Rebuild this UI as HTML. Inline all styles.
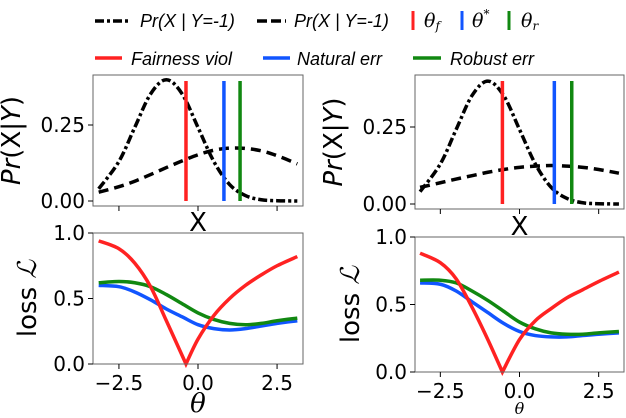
<!DOCTYPE html>
<html><head><meta charset="utf-8">
<style>
body{margin:0;background:#fff;}
svg{display:block;font-family:"DejaVu Sans","Liberation Sans",sans-serif;}
.tick{font-size:20px;fill:#000;}
.leg{font-family:"Liberation Sans",sans-serif;font-style:italic;font-size:18px;}
</style></head>
<body>
<svg id="chart" width="626" height="418" viewBox="0 0 626 418" xmlns="http://www.w3.org/2000/svg">
<g>
  <line x1="95" y1="21" x2="131" y2="21" stroke="#000" stroke-width="3.5" stroke-dasharray="9,3,3,3"/>
  <text class="leg" x="140" y="27">Pr(X | Y=-1)</text>
  <line x1="257" y1="21" x2="286" y2="21" stroke="#000" stroke-width="3.5" stroke-dasharray="10,4"/>
  <text class="leg" x="294" y="27">Pr(X | Y=-1)</text>
  <line x1="413" y1="11" x2="413" y2="30" stroke="#f22" stroke-width="3"/>
  <text x="424" y="27" font-family="DejaVu Serif,serif" font-style="italic" font-size="19">θ<tspan font-size="12" dy="3">f</tspan></text>
  <line x1="462" y1="11" x2="462" y2="30" stroke="#15f" stroke-width="3"/>
  <text x="472" y="27" font-family="DejaVu Serif,serif" font-style="italic" font-size="19">θ<tspan font-size="12" dy="-9">*</tspan></text>
  <line x1="509" y1="11" x2="509" y2="30" stroke="#181" stroke-width="3"/>
  <text x="521" y="27" font-family="DejaVu Serif,serif" font-style="italic" font-size="19">θ<tspan font-size="12" dy="3">r</tspan></text>
  <line x1="95" y1="58" x2="122" y2="58" stroke="#f22" stroke-width="3.5"/>
  <text class="leg" x="131" y="65">Fairness viol</text>
  <line x1="263" y1="58" x2="290" y2="58" stroke="#15f" stroke-width="3.5"/>
  <text class="leg" x="297" y="65">Natural err</text>
  <line x1="413" y1="58" x2="441" y2="58" stroke="#181" stroke-width="3.5"/>
  <text class="leg" x="450" y="65">Robust err</text>
</g>
</svg>
<script>
const xs = [-3.14,-2.5,-2,-1.5,-1,-0.5,0,0.5,1,1.5,2,2.5,3.14];
const pdfA_L = [0.040,0.130,0.242,0.352,0.399,0.352,0.242,0.130,0.054,0.018,0.004,0.001,0.000];
const pdfB_L = [0.029,0.047,0.065,0.087,0.110,0.132,0.152,0.167,0.174,0.173,0.165,0.149,0.122];
const pdfA_R = [0.040,0.130,0.242,0.352,0.399,0.352,0.242,0.130,0.054,0.018,0.004,0.001,0.000];
const pdfB_R = [0.054,0.069,0.081,0.092,0.103,0.112,0.119,0.123,0.125,0.123,0.119,0.112,0.100];
const thetaLines_L = [-0.38,0.82,1.33];
const thetaLines_R = [-0.54,1.10,1.65];
const thL = [-3.14,-2.5,-2,-1.5,-1,-0.38,0,0.5,1,1.5,2,2.5,3.14];
const fairL = [0.94,0.88,0.77,0.59,0.33,0.0,0.19,0.37,0.50,0.60,0.68,0.75,0.82];
const thLs = [-3.14,-2.5,-2,-1.5,-1,-0.5,0,0.5,1,1.5,2,2.5,3.14];
const natL  = [0.60,0.59,0.55,0.49,0.42,0.36,0.30,0.27,0.26,0.27,0.29,0.31,0.33];
const robL  = [0.62,0.63,0.62,0.59,0.53,0.46,0.39,0.34,0.31,0.30,0.31,0.33,0.35];
const thR = [-3.14,-2.5,-2,-1.5,-1,-0.54,0,0.5,1,1.5,2,2.5,3.14];
const fairR = [0.88,0.81,0.69,0.48,0.24,0.0,0.24,0.38,0.47,0.55,0.61,0.67,0.74];
const thRs = [-3.14,-2.5,-2,-1.5,-1,-0.5,0,0.5,1,1.5,2,2.5,3.14];
const natR  = [0.66,0.65,0.60,0.52,0.44,0.36,0.30,0.27,0.26,0.26,0.27,0.28,0.29];
const robR  = [0.68,0.68,0.66,0.60,0.53,0.45,0.37,0.32,0.29,0.28,0.28,0.29,0.30];
const xTicks = [-2.5,0,2.5];
const xTickLabels = ["\u22122.5","0.0","2.5"];
const pTicks = [0,0.25];
const pTickLabels = ["0.00","0.25"];
const lTicks = [0,0.5,1];
const lTickLabels = ["0.0","0.5","1.0"];

const NS="http://www.w3.org/2000/svg";
const svg=document.getElementById('chart');
function el(tag,attrs,parent){const e=document.createElementNS(NS,tag);for(const k in attrs)e.setAttribute(k,attrs[k]);(parent||svg).appendChild(e);return e;}
function spline(pts){let d=`M${pts[0][0]},${pts[0][1]}`;for(let i=0;i<pts.length-1;i++){const p0=pts[i-1]||pts[i],p1=pts[i],p2=pts[i+1],p3=pts[i+2]||p2;d+=` C${p1[0]+(p2[0]-p0[0])/6},${p1[1]+(p2[1]-p0[1])/6} ${p2[0]-(p3[0]-p1[0])/6},${p2[1]-(p3[1]-p1[1])/6} ${p2[0]},${p2[1]}`;}return d;}
function kinkPath(pts,k){
  return spline(pts.slice(0,k+1))+' '+spline(pts.slice(k)).replace('M','L');
}

function panel(o){
  const g=el('g',{});
  
  
  const sx=v=>o.x0+(v-o.xmin)/(o.xmax-o.xmin)*(o.x1-o.x0);
  const sy=v=>o.ybase+(o.ymin-v)*o.ypx;
  o.series.forEach(s=>{
    const pts=s.x.map((v,i)=>[sx(v),sy(s.y[i])]);
    const p=el('path',{d:s.kink!=null?kinkPath(pts,s.kink):spline(pts),fill:'none',stroke:s.color,'stroke-width':3.5,'stroke-dasharray':s.dash||'none','stroke-linejoin':'miter'},g);
    
    
  });
  (o.vlines||[]).forEach((v,i)=>{
    const l=el('line',{x1:sx(v),x2:sx(v),y1:o.y0+6,y2:o.y1-5,stroke:['#f22','#15f','#181'][i],'stroke-width':3.5},g);
    
    
  });
  const fr=el('rect',{x:o.x0,y:o.y0,width:o.x1-o.x0,height:o.y1-o.y0,fill:'none',stroke:'#666','stroke-width':1},g);
  
  
  xTicks.forEach((v,i)=>{
    const t=el('line',{x1:sx(v),x2:sx(v),y1:o.y1,y2:o.y1+5,stroke:'#000'},g);
    
    
    if(o.xlabels){const tx=el('text',{x:sx(v),y:o.y1+26,'text-anchor':'middle',class:'tick'},g);tx.textContent=xTickLabels[i];
      
      }
  });
  o.yt.forEach((v,i)=>{
    const t=el('line',{x1:o.x0-5,x2:o.x0,y1:sy(v),y2:sy(v),stroke:'#000'},g);
    
    
    const tx=el('text',{x:o.x0-8,y:sy(v)+7,'text-anchor':'end',class:'tick'},g);tx.textContent=o.ytl[i];
    
    
  });
  const yl=el('text',{x:0,y:0,'text-anchor':'middle','font-size':o.ylfs,transform:`translate(${o.ylx},${(o.y0+o.y1)/2}) rotate(-90)`},g);
  yl.innerHTML=o.ylab;
  
  
  const xl=el('text',{x:(o.x0+o.x1)/2,y:o.xly,'text-anchor':'middle','font-size':o.xlfs,'font-style':o.xlit?'italic':'normal','font-family':o.xlit?'DejaVu Serif,serif':'DejaVu Sans,sans-serif'},g);
  xl.textContent=o.xlab;
  
  
}
const PR='<tspan font-style="italic">Pr</tspan>(X|<tspan font-style="italic">Y</tspan>)';
const LOSS='loss <tspan font-family="DejaVu Serif,serif" font-style="italic">ℒ</tspan>';
panel({name:'left-density-panel',x0:93,x1:303,y0:75,y1:206,xmin:-3.32,xmax:3.32,ybase:201,ymin:0,ypx:304,
  series:[{x:xs,y:pdfA_L,color:'#000',dash:'9,3,3,3',name:'pdf-dashdot-line'},{x:xs,y:pdfB_L,color:'#000',dash:'10,6',name:'pdf-dashed-line'}],
  vlines:thetaLines_L,yt:pTicks,ytl:pTickLabels,ylx:20,ylfs:26,ylab:PR,xlab:'X',xly:231,xlfs:26,xlabels:false});
panel({name:'left-loss-panel',x0:93,x1:303,y0:233,y1:364,xmin:-3.32,xmax:3.32,ybase:364,ymin:0,ypx:131,
  series:[{x:thLs,y:natL,color:'#15f',name:'natural-err-line'},{x:thLs,y:robL,color:'#181',name:'robust-err-line'},{x:thL,y:fairL,color:'#f22',kink:5,name:'fairness-viol-line'}],
  yt:lTicks,ytl:lTickLabels,ylx:36,ylfs:26,ylab:LOSS,xlab:'θ',xly:412,xlfs:26,xlit:true,xlabels:true});
panel({name:'right-density-panel',x0:415,x1:624,y0:75,y1:209,xmin:-3.3,xmax:3.3,ybase:204,ymin:0,ypx:308,
  series:[{x:xs,y:pdfA_R,color:'#000',dash:'9,3,3,3',name:'pdf-dashdot-line'},{x:xs,y:pdfB_R,color:'#000',dash:'10,6',name:'pdf-dashed-line'}],
  vlines:thetaLines_R,yt:pTicks,ytl:pTickLabels,ylx:342,ylfs:26,ylab:PR,xlab:'X',xly:235,xlfs:26,xlabels:false});
panel({name:'right-loss-panel',x0:415,x1:624,y0:237,y1:372,xmin:-3.3,xmax:3.3,ybase:372,ymin:0,ypx:135,
  series:[{x:thRs,y:natR,color:'#15f',name:'natural-err-line'},{x:thRs,y:robR,color:'#181',name:'robust-err-line'},{x:thR,y:fairR,color:'#f22',kink:5,name:'fairness-viol-line'}],
  yt:lTicks,ytl:lTickLabels,ylx:359,ylfs:26,ylab:LOSS,xlab:'θ',xly:414,xlfs:16,xlit:true,xlabels:true});
</script>
</body></html>
